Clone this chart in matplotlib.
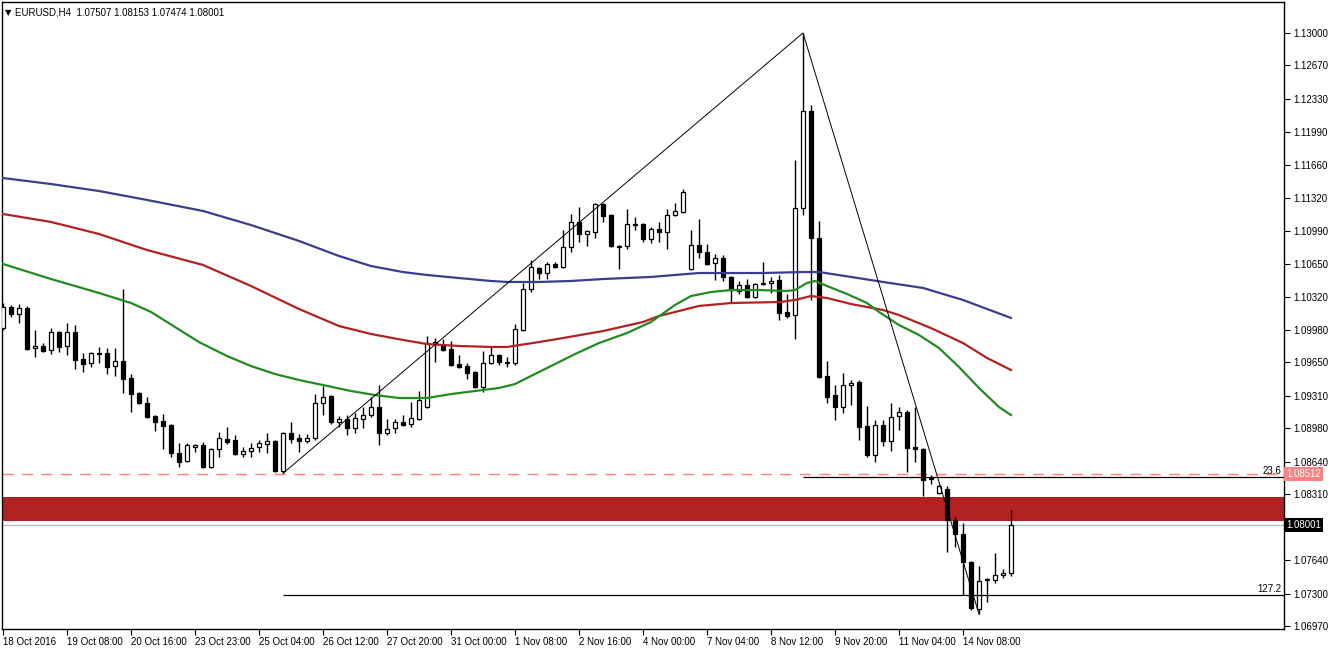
import matplotlib
matplotlib.use("Agg")
import matplotlib.pyplot as plt
import matplotlib.transforms as mtransforms

plt.rcParams['font.family'] = ['Liberation Sans', 'DejaVu Sans']

# ---------------- data ----------------
opens = [1.10003,1.10213,1.10143,1.10203,1.09796,1.09816,1.09776,1.09956,1.09816,1.09956,
         1.09686,1.09646,1.09736,1.09746,1.09616,1.09666,1.09490,1.09340,1.09240,1.09104,
         1.09054,1.09014,1.08728,1.08648,1.08788,1.08808,1.08588,1.08768,1.08874,1.08864,
         1.08718,1.08748,1.08788,1.08818,1.08848,1.08548,1.08934,1.08884,1.08848,1.08884,
         1.09240,1.09310,1.09044,1.09074,1.08984,1.09074,1.09114,1.09200,1.08934,1.08984,
         1.09044,1.09024,1.09074,1.09200,1.09836,1.09826,1.09786,1.09636,1.09616,1.09550,
         1.09400,1.09646,1.09726,1.09646,1.09646,1.09983,1.10398,1.10608,1.10558,1.10648,
         1.10618,1.10823,1.11078,1.10958,1.10978,1.11260,1.11148,1.10833,1.10833,1.11048,
         1.11058,1.10908,1.11008,1.10978,1.11148,1.11178,1.10599,1.10848,1.10768,1.10658,
         1.10708,1.10518,1.10376,1.10438,1.10315,1.10448,1.10458,1.10488,1.10162,1.10132,
         1.11220,1.12207,1.10915,1.09511,1.09318,1.09196,1.09420,1.09451,1.09003,1.08708,
         1.09013,1.08851,1.09105,1.09146,1.08790,1.08770,1.08474,1.08322,1.08362,1.08047,
         1.07905,1.07620,1.07142,1.07447,1.07437,1.07488,1.07507]
highs = [1.10253,1.10233,1.10243,1.10223,1.09976,1.09846,1.10000,1.09966,1.10053,1.10033,
         1.09746,1.09756,1.09806,1.09796,1.09796,1.10398,1.09530,1.09350,1.09300,1.09114,
         1.09124,1.09024,1.08828,1.08828,1.08818,1.08838,1.08778,1.08944,1.08994,1.08914,
         1.08788,1.08828,1.08858,1.08934,1.08858,1.08944,1.09044,1.08924,1.08924,1.09330,
         1.09410,1.09320,1.09104,1.09114,1.09134,1.09200,1.09300,1.09420,1.09074,1.09074,
         1.09114,1.09250,1.09360,1.09916,1.09896,1.09886,1.09866,1.09726,1.09646,1.09560,
         1.09766,1.09816,1.09736,1.09706,1.10043,1.10458,1.10689,1.10618,1.10668,1.10668,
         1.10998,1.11158,1.11230,1.10998,1.11270,1.11270,1.11158,1.10843,1.11208,1.11128,
         1.11068,1.11028,1.11078,1.11208,1.11270,1.11412,1.10998,1.11108,1.10858,1.10748,
         1.10738,1.10528,1.10478,1.10498,1.10458,1.10668,1.10518,1.10538,1.10345,1.11708,
         1.13000,1.12268,1.11088,1.09664,1.09420,1.09542,1.09471,1.09471,1.09207,1.09064,
         1.09064,1.09237,1.09196,1.09166,1.09196,1.08780,1.08505,1.08413,1.08393,1.08078,
         1.08017,1.07630,1.07579,1.07457,1.07711,1.07549,1.08153]
lows = [1.09983,1.10113,1.10053,1.09776,1.09706,1.09756,1.09736,1.09756,1.09726,1.09586,
        1.09550,1.09606,1.09646,1.09530,1.09510,1.09340,1.09144,1.09230,1.09084,1.08954,
        1.08768,1.08688,1.08588,1.08638,1.08738,1.08578,1.08578,1.08688,1.08818,1.08708,
        1.08688,1.08688,1.08738,1.08728,1.08538,1.08522,1.08828,1.08738,1.08828,1.08864,
        1.09114,1.09024,1.08994,1.08914,1.08934,1.08984,1.09094,1.08814,1.08914,1.08934,
        1.09004,1.08994,1.09064,1.09190,1.09656,1.09766,1.09616,1.09596,1.09480,1.09390,
        1.09350,1.09636,1.09626,1.09606,1.09626,1.09973,1.10368,1.10498,1.10498,1.10608,
        1.10608,1.10773,1.10878,1.10838,1.10918,1.11078,1.10823,1.10599,1.10803,1.10998,
        1.10878,1.10868,1.10878,1.10803,1.11138,1.11168,1.10589,1.10708,1.10638,1.10488,
        1.10478,1.10264,1.10346,1.10305,1.10305,1.10438,1.10356,1.10081,1.10101,1.09888,
        1.11149,1.10284,1.09491,1.09237,1.09064,1.09135,1.09217,1.08861,1.08688,1.08637,
        1.08800,1.08749,1.08963,1.08535,1.08637,1.08292,1.08413,1.08312,1.07722,1.07773,
        1.07284,1.07132,1.07091,1.07213,1.07407,1.07457,1.07474]
closes = [1.10213,1.10143,1.10203,1.09786,1.09816,1.09766,1.09956,1.09806,1.09956,1.09676,
          1.09636,1.09746,1.09746,1.09606,1.09666,1.09480,1.09330,1.09240,1.09094,1.09044,
          1.09004,1.08728,1.08638,1.08808,1.08808,1.08588,1.08768,1.08884,1.08838,1.08718,
          1.08748,1.08778,1.08828,1.08848,1.08548,1.08934,1.08874,1.08848,1.08884,1.09240,
          1.09300,1.09044,1.09074,1.08984,1.09084,1.09114,1.09200,1.08934,1.08974,1.09044,
          1.09014,1.09084,1.09270,1.09846,1.09856,1.09776,1.09626,1.09606,1.09540,1.09400,
          1.09646,1.09726,1.09656,1.09656,1.09993,1.10398,1.10618,1.10558,1.10648,1.10618,
          1.10823,1.11078,1.10958,1.10988,1.11260,1.11138,1.10833,1.10823,1.11058,1.11058,
          1.10908,1.11008,1.10978,1.11148,1.11188,1.11382,1.10848,1.10768,1.10648,1.10708,
          1.10518,1.10388,1.10438,1.10315,1.10448,1.10458,1.10478,1.10152,1.10122,1.11220,
          1.12207,1.10915,1.09501,1.09298,1.09196,1.09420,1.09440,1.08993,1.08708,1.09013,
          1.08851,1.09095,1.09146,1.08780,1.08770,1.08454,1.08464,1.08393,1.08047,1.07905,
          1.07620,1.07152,1.07427,1.07437,1.07488,1.07507,1.08001]

# moving averages (bar index, price)
ma_blue_bars = [0, 6, 12, 18, 25, 31, 37, 42, 46, 50, 53, 57, 61, 63, 67, 71, 75, 81, 87, 95,
                100, 102, 106, 110, 115, 120, 126]
ma_blue = [1.11525, 1.11464, 1.11393, 1.11302, 1.11190, 1.11047, 1.10885, 1.10732, 1.10630, 1.10569,
           1.10539, 1.10508, 1.10478, 1.10468, 1.10468, 1.10478, 1.10498, 1.10519, 1.10559, 1.10559,
           1.10569, 1.10569, 1.10519, 1.10468, 1.10407, 1.10285, 1.10102]
ma_red_bars = [0, 6, 12, 18, 25, 31, 37, 42, 46, 50, 53, 57, 61, 63, 67, 70, 75, 80, 82, 85, 87,
               91, 97, 99, 101, 103, 106, 110, 112, 116, 120, 123, 126]
ma_red = [1.11159, 1.11078, 1.10956, 1.10793, 1.10641, 1.10427, 1.10193, 1.10020, 1.09939, 1.09878,
          1.09837, 1.09817, 1.09807, 1.09807, 1.09857, 1.09898, 1.09969, 1.10061, 1.10122, 1.10183,
          1.10224, 1.10254, 1.10264, 1.10285, 1.10325, 1.10305, 1.10244, 1.10183, 1.10132, 1.09999,
          1.09847, 1.09695, 1.09573]
ma_green_bars = [0, 6, 12, 16, 18.5, 21.5, 24.5, 28, 31, 34, 37, 40, 43.5, 46.5, 49.5, 53, 56, 59,
                 62, 64, 66, 68.5, 71.5, 74.5, 78, 81, 84, 86, 88.5, 91, 94.5, 98, 99, 100.5, 101.5,
                 103, 105.5, 108, 109.5, 112, 114.5, 117, 119.5, 122, 124.5, 126]
ma_green = [1.10651, 1.10498, 1.10356, 1.10254, 1.10163, 1.10010, 1.09857, 1.09715, 1.09613, 1.09532,
            1.09471, 1.09420, 1.09359, 1.09318, 1.09288, 1.09288, 1.09328, 1.09359, 1.09390, 1.09430,
            1.09512, 1.09613, 1.09735, 1.09847, 1.09949, 1.10061, 1.10234, 1.10325, 1.10366, 1.10386,
            1.10386, 1.10376, 1.10386, 1.10458, 1.10478, 1.10427, 1.10346, 1.10254, 1.10163, 1.10030,
            1.09929, 1.09796, 1.09603, 1.09390, 1.09196, 1.09115]

zigzag_bars = [35, 100, 122]
zigzag_prices = [1.08522, 1.13000, 1.07091]

fib_236 = 1.08485
fib_1272 = 1.07285
fib_236_start = 100
fib_1272_start = 35
dashed_level = 1.08512
zone_low, zone_high = 1.08040, 1.08284
bid = 1.08001

ytick_values = [1.13000, 1.12670, 1.12330, 1.11990, 1.11660, 1.11320, 1.10990, 1.10650, 1.10320,
                1.09980, 1.09650, 1.09310, 1.08980, 1.08640, 1.08310, 1.07970, 1.07640, 1.07300, 1.06970]
xtick_bars = [0, 8, 16, 24, 32, 40, 48, 56, 64, 72, 80, 88, 96, 104, 112, 120]
xtick_labels = ["18 Oct 2016", "19 Oct 08:00", "20 Oct 16:00", "23 Oct 23:00", "25 Oct 04:00",
                "26 Oct 12:00", "27 Oct 20:00", "31 Oct 00:00", "1 Nov 08:00", "2 Nov 16:00",
                "4 Nov 00:00", "7 Nov 04:00", "8 Nov 12:00", "9 Nov 20:00", "11 Nov 04:00", "14 Nov 08:00"]
title_symbol = "\u25BC"
title = "EURUSD,H4  1.07507 1.08153 1.07474 1.08001"

# ---------------- figure ----------------
W, H = 1329, 650
fig = plt.figure(figsize=(W / 100, H / 100), dpi=100, facecolor="white")
ax = fig.add_axes([2 / W, (H - 629) / H, 1282 / W, 627 / H])
ax.set_facecolor("white")

n = len(opens)
xs = list(range(n))

# zone + levels
ax.axhspan(zone_low, zone_high, color="#b22222", zorder=1, lw=0)
ax.axhline(bid, color="#c0c0c0", lw=1.0, zorder=1.5)
ax.axhline(dashed_level, color="#ff8080", lw=1.0, ls=(0, (8, 6)), zorder=1.5)

# candles
ax.vlines(xs, lows, highs, color="black", lw=1.0, zorder=3)
bw = 0.62
for i in range(n):
    o, c = opens[i], closes[i]
    bull = c >= o
    lo, hi = min(o, c), max(o, c)
    ax.bar(i, max(hi - lo, 1e-6), bottom=lo, width=bw,
           color="white" if bull else "black", edgecolor="black", lw=0.9, zorder=3.5)

# moving averages
ax.plot(ma_blue_bars, ma_blue, color="#3d3d8f", lw=1.6, zorder=4, solid_joinstyle="round")
ax.plot(ma_red_bars, ma_red, color="#b22222", lw=1.6, zorder=4, solid_joinstyle="round")
ax.plot(ma_green_bars, ma_green, color="#228b22", lw=1.6, zorder=4, solid_joinstyle="round")

# zigzag and fibo lines
ax.plot(zigzag_bars, zigzag_prices, color="black", lw=0.7, zorder=5)
xmax = 160.125
ax.hlines(fib_236, fib_236_start, xmax, color="black", lw=0.9, zorder=5)
ax.hlines(fib_1272, fib_1272_start, xmax, color="black", lw=0.9, zorder=5)
ax.text(159.8, fib_236 + 0.00010, "23.6", ha="right", va="bottom", fontsize=7, zorder=6)
ax.text(159.8, fib_1272 + 0.00010, "127.2", ha="right", va="bottom", fontsize=7, zorder=6)

ax.set_xlim(-0.125, xmax)
ax.set_ylim(1.06939, 1.13315)

# axes styling
for s in ax.spines.values():
    s.set_color("black")
    s.set_linewidth(1.0)
ax.yaxis.tick_right()
ax.set_yticks(ytick_values)
ax.set_yticklabels([("" if abs(v - 1.07970) < 1e-9 else f"{v:.5f}") for v in ytick_values])
ax.tick_params(axis="y", direction="out", length=4, width=0.8, labelsize=7, pad=3, colors="black")
ax.set_xticks(xtick_bars)
ax.set_xticklabels(xtick_labels)
ax.tick_params(axis="x", direction="out", length=4, width=0.8, labelsize=7, pad=2, colors="black")
for lbl in ax.get_xticklabels():
    lbl.set_horizontalalignment("left")

# price boxes on axis
trans = mtransforms.blended_transform_factory(ax.transAxes, ax.transData)
ax.text(1.0016, dashed_level, "1.08512", transform=trans, ha="left", va="center", fontsize=7,
        color="white", zorder=10, clip_on=False,
        bbox=dict(boxstyle="square,pad=0.2", facecolor="#ff8080", edgecolor="none"))
ax.text(1.0016, bid, "1.08001", transform=trans, ha="left", va="center", fontsize=7,
        color="white", zorder=10, clip_on=False,
        bbox=dict(boxstyle="square,pad=0.2", facecolor="black", edgecolor="none"))

# title
ax.text(0.0025, 0.991, title_symbol, transform=ax.transAxes, ha="left", va="top", fontsize=6,
        family="DejaVu Sans", zorder=10)
ax.text(0.0105, 0.992, title, transform=ax.transAxes, ha="left", va="top", fontsize=7, zorder=10)

fig.savefig("out.png", dpi=100, facecolor="white")
